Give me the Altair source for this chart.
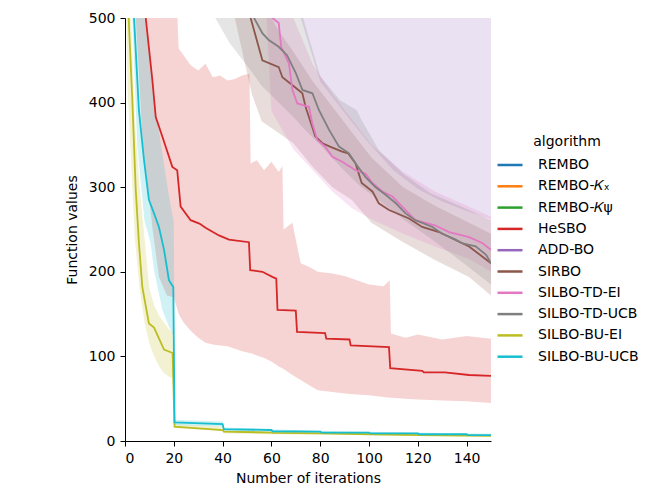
import altair as alt
import pandas as pd

ALGOS = ["REMBO", "REMBO-𝐾ₓ", "REMBO-𝐾ψ", "HeSBO", "ADD-BO", "SIRBO",
         "SILBO-TD-EI", "SILBO-TD-UCB", "SILBO-BU-EI", "SILBO-BU-UCB"]
COLORS = ["#1f77b4", "#ff7f0e", "#2ca02c", "#d62728", "#9467bd", "#8c564b",
          "#e377c2", "#7f7f7f", "#bcbd22", "#17becf"]

# ---- mean curves (iteration, value) ----
rembo_x = [0, 50, 100, 150]
rembo_y = [1500, 1300, 1200, 1150]
rembokx_x = [0, 50, 100, 150]
rembokx_y = [1450, 1250, 1150, 1100]
rembokp_x = [0, 50, 100, 150]
rembokp_y = [1400, 1200, 1100, 1050]
addbo_x = [0, 50, 100, 150]
addbo_y = [1500, 1100, 900, 800]

hesbo_x = [0, 8.5, 11.2, 12.6, 15.3, 19.4, 21.4, 22.8, 26.9, 30.5, 33, 38.5, 42.6, 50.8, 51.3,
           56.3, 60.4, 62, 62.5, 70, 70.5, 82, 82.5, 92, 92.5, 108.2, 108.7, 121.8, 122.5, 131, 141, 150]
hesbo_y = [900, 500, 427, 383, 360, 324, 320, 277, 261, 257, 252, 243, 238, 235, 202,
           200, 194, 192, 155, 154, 129, 127.5, 121, 120, 113, 111, 86, 83, 81, 81, 78, 77]

sirbo_x = [40, 51.5, 53.6, 56.3, 63, 64.5, 69.3, 72.7, 74, 78, 80.9, 84, 89, 91.5, 94.5, 97,
           101.4, 104, 108.2, 116.4, 121.8, 128.7, 138, 141, 146.4, 150]
sirbo_y = [700, 500, 478, 450, 442, 430, 419, 411, 395, 360, 352, 348, 342, 340, 328, 305,
           295, 281, 273, 263, 253, 247, 234, 230, 218, 210]

tdei_x = [50, 60.4, 63, 64, 67.2, 68.6, 70.6, 75.4, 76.8, 78.8, 82, 85, 89, 94.5, 98.6, 101.4,
          105.5, 109.6, 113.6, 119, 127, 132.8, 141, 146.4, 150]
tdei_y = [700, 500, 494, 466, 446, 415, 399, 395, 375, 356, 348, 336, 330, 320, 316, 305,
          295, 289, 277, 261, 255, 247, 241, 234, 226]

tducb_x = [40, 52.9, 56.3, 58.9, 63, 66.4, 70, 72.7, 76.8, 79.5, 83.6, 87.7, 91.8, 94.5, 98.6,
           102.7, 106.8, 111, 115, 119, 126, 130, 135.5, 138, 143.7, 148, 150]
tducb_y = [700, 500, 482, 474, 466, 456, 435, 415, 411, 391, 368, 348, 340, 328, 312,
           300, 291, 281, 269, 261, 253, 245, 238, 234, 230, 220, 210]

buei_x = [0, 1.5, 3, 4.4, 5.7, 7.1, 9.8, 11.9, 16, 19.5, 20.3, 40, 40.5, 60, 60.5, 80, 100, 120, 140, 150]
buei_y = [700, 500, 403, 297, 234, 182, 139, 134, 108, 104, 17, 13, 11, 10, 9.5, 9, 8, 7, 6.5, 6]

buucb_x = [0, 3.7, 5.7, 7.8, 9.8, 11.9, 13.9, 16, 18, 19.8, 20.3, 40, 40.5, 60, 60.5, 80, 80.5,
           100, 100.5, 120, 120.5, 140, 140.5, 150]
buucb_y = [800, 500, 391, 332, 285, 269, 253, 226, 190, 182, 22, 20, 14, 13, 11.5, 11, 10,
           10, 9, 9, 8, 8, 7, 7]

# ---- confidence bands (iteration, lower, upper) ----
addbo_bx = [60, 72, 80, 90, 100, 110, 120, 130, 140, 150]
addbo_lo = [700, 500, 425, 388, 352, 320, 298, 283, 272, 262]
addbo_hi = [1500, 1500, 1500, 1500, 1500, 1500, 1500, 1500, 1500, 1500]

hesbo_bx = [0, 4.4, 7.1, 11.2, 13.9, 17.2, 20, 21, 21.5, 22, 24, 27, 30, 33, 36, 39, 42, 45, 48,
            51, 51.5, 54, 57, 60, 63, 64.5, 65, 68.6, 72, 76, 79, 85, 90, 95, 100, 106, 108.5,
            109, 115, 120, 130, 140, 150]
hesbo_lo = [700, 500, 360, 253, 194, 172, 170, 160, 155, 150, 140, 130, 122, 116, 114, 113, 112,
            109, 106, 104, 104, 101, 98, 94, 88, 86, 85, 78, 72, 65, 60, 58, 56, 55, 54, 52, 51,
            51, 50, 49, 48, 47, 45]
hesbo_hi = [2000, 1500, 1200, 1000, 900, 800, 700, 600, 500, 464, 456, 444, 438, 446, 430, 432,
            426, 428, 432, 434, 328, 332, 320, 330, 318, 325, 250, 258, 210, 205, 200, 198, 195,
            190, 185, 183, 190, 127, 122, 126, 120, 124, 121]

sirbo_bx = [38, 45, 52, 56, 60, 63, 69, 77, 85, 93, 101, 114, 127, 141, 150]
sirbo_lo = [600, 500, 410, 378, 370, 364, 352, 324, 300, 285, 258, 235, 214, 194, 172]
sirbo_hi = [1000, 900, 800, 600, 500, 485, 460, 425, 395, 365, 335, 300, 278, 258, 245]

tdei_bx = [50, 58, 60, 64, 69, 77, 85, 93, 101, 114, 127, 141, 150]
tdei_lo = [700, 500, 390, 370, 345, 320, 295, 275, 262, 245, 230, 215, 200]
tdei_hi = [1000, 900, 800, 600, 500, 445, 410, 380, 350, 318, 295, 277, 265]

tducb_bx = [30, 37, 43, 51, 56, 63, 70, 73, 80, 88, 95, 97, 104, 114, 125, 138, 150]
tducb_lo = [600, 500, 470, 440, 420, 400, 380, 370, 350, 325, 305, 300, 285, 262, 240, 212, 185]
tducb_hi = [1000, 900, 850, 800, 700, 600, 540, 500, 431, 403, 391, 379, 344, 316, 293, 277, 261]

buei_bx = [0, 1, 2.5, 4, 6, 8, 10, 12, 14, 16, 18, 20, 20.3, 40, 40.5, 60, 80, 100, 120, 150]
buei_lo = [600, 420, 330, 240, 180, 140, 115, 100, 88, 80, 76, 74, 15, 12, 9, 8, 7.5, 7, 6, 5]
buei_hi = [900, 700, 500, 380, 300, 240, 180, 160, 148, 140, 132, 128, 20, 17, 13, 11, 10, 9, 8, 7]

buucb_bx = [0, 3, 5, 8, 10.5, 12, 15.3, 18, 20, 20.3, 40, 40.5, 60, 80, 100, 120, 140, 150]
buucb_lo = [700, 500, 350, 260, 234, 200, 155, 135, 125, 19, 17, 11, 10, 9, 8, 7, 6, 6]
buucb_hi = [1000, 800, 650, 500, 450, 400, 340, 290, 258, 25, 23, 16, 14, 12, 11, 10, 9, 9]

means = [
    (ALGOS[0], rembo_x, rembo_y), (ALGOS[1], rembokx_x, rembokx_y),
    (ALGOS[2], rembokp_x, rembokp_y), (ALGOS[3], hesbo_x, hesbo_y),
    (ALGOS[4], addbo_x, addbo_y), (ALGOS[5], sirbo_x, sirbo_y),
    (ALGOS[6], tdei_x, tdei_y), (ALGOS[7], tducb_x, tducb_y),
    (ALGOS[8], buei_x, buei_y), (ALGOS[9], buucb_x, buucb_y),
]
bands = [
    (ALGOS[3], hesbo_bx, hesbo_lo, hesbo_hi), (ALGOS[4], addbo_bx, addbo_lo, addbo_hi),
    (ALGOS[5], sirbo_bx, sirbo_lo, sirbo_hi), (ALGOS[6], tdei_bx, tdei_lo, tdei_hi),
    (ALGOS[7], tducb_bx, tducb_lo, tducb_hi), (ALGOS[8], buei_bx, buei_lo, buei_hi),
    (ALGOS[9], buucb_bx, buucb_lo, buucb_hi),
]

line_rows = []
for name, xs, ys in means:
    for x, y in zip(xs, ys):
        line_rows.append({"algorithm": name, "iteration": x, "value": y})
band_rows = []
for name, xs, lo, hi in bands:
    for x, a, b in zip(xs, lo, hi):
        band_rows.append({"algorithm": name, "iteration": x, "lo": a, "hi": b})

lines_df = pd.DataFrame(line_rows)
bands_df = pd.DataFrame(band_rows)

FONT = "DejaVu Sans"
FS = 14
xscale = alt.Scale(domain=[0, 150], nice=False, zero=False)
yscale = alt.Scale(domain=[0, 500], nice=False)
cscale = alt.Scale(domain=ALGOS, range=COLORS)

xaxis = alt.Axis(title="Number of iterations", values=list(range(0, 150, 20)), grid=False,
                 labelFontSize=FS, titleFontSize=FS, titleFontWeight="normal",
                 tickColor="black", domainColor="black", labelColor="black", titleColor="black",
                 tickSize=5, labelPadding=5, titlePadding=6, labelFont=FONT, titleFont=FONT)
yaxis = alt.Axis(title="Function values", values=list(range(0, 501, 100)), grid=False,
                 labelFontSize=FS, titleFontSize=FS, titleFontWeight="normal",
                 tickColor="black", domainColor="black", labelColor="black", titleColor="black",
                 tickSize=5, labelPadding=5, titlePadding=9, labelFont=FONT, titleFont=FONT)

area = alt.Chart(bands_df).mark_area(fillOpacity=0.2, clip=True, interpolate="linear").encode(
    x=alt.X("iteration:Q", scale=xscale, axis=xaxis),
    y=alt.Y("lo:Q", scale=yscale, axis=yaxis, stack=None),
    y2="hi:Q",
    color=alt.Color("algorithm:N", scale=cscale, legend=None),
)

line = alt.Chart(lines_df).mark_line(strokeWidth=1.8, clip=True).encode(
    x=alt.X("iteration:Q", scale=xscale, axis=xaxis),
    y=alt.Y("value:Q", scale=yscale, axis=yaxis),
    color=alt.Color("algorithm:N", scale=cscale, sort=ALGOS,
                    legend=alt.Legend(title="algorithm", orient="none", legendX=371, legendY=117,
                                      symbolType="stroke", symbolSize=625, symbolStrokeWidth=2.5,
                                      labelFontSize=FS, titleFontSize=FS, titleFontWeight="normal",
                                      labelFont=FONT, titleFont=FONT, titleAnchor="middle",
                                      labelColor="black", titleColor="black", rowPadding=0.3,
                                      titlePadding=2, labelOffset=14, padding=0)),
    detail="algorithm:N",
)

chart = alt.layer(area, line).resolve_legend(color="independent").properties(
    width=366, height=423,
    padding={"left": 57, "top": 3, "right": 0, "bottom": 0},
).configure_view(stroke=None)

chart.save("out.html", embed_options={"renderer": "svg", "actions": False})
